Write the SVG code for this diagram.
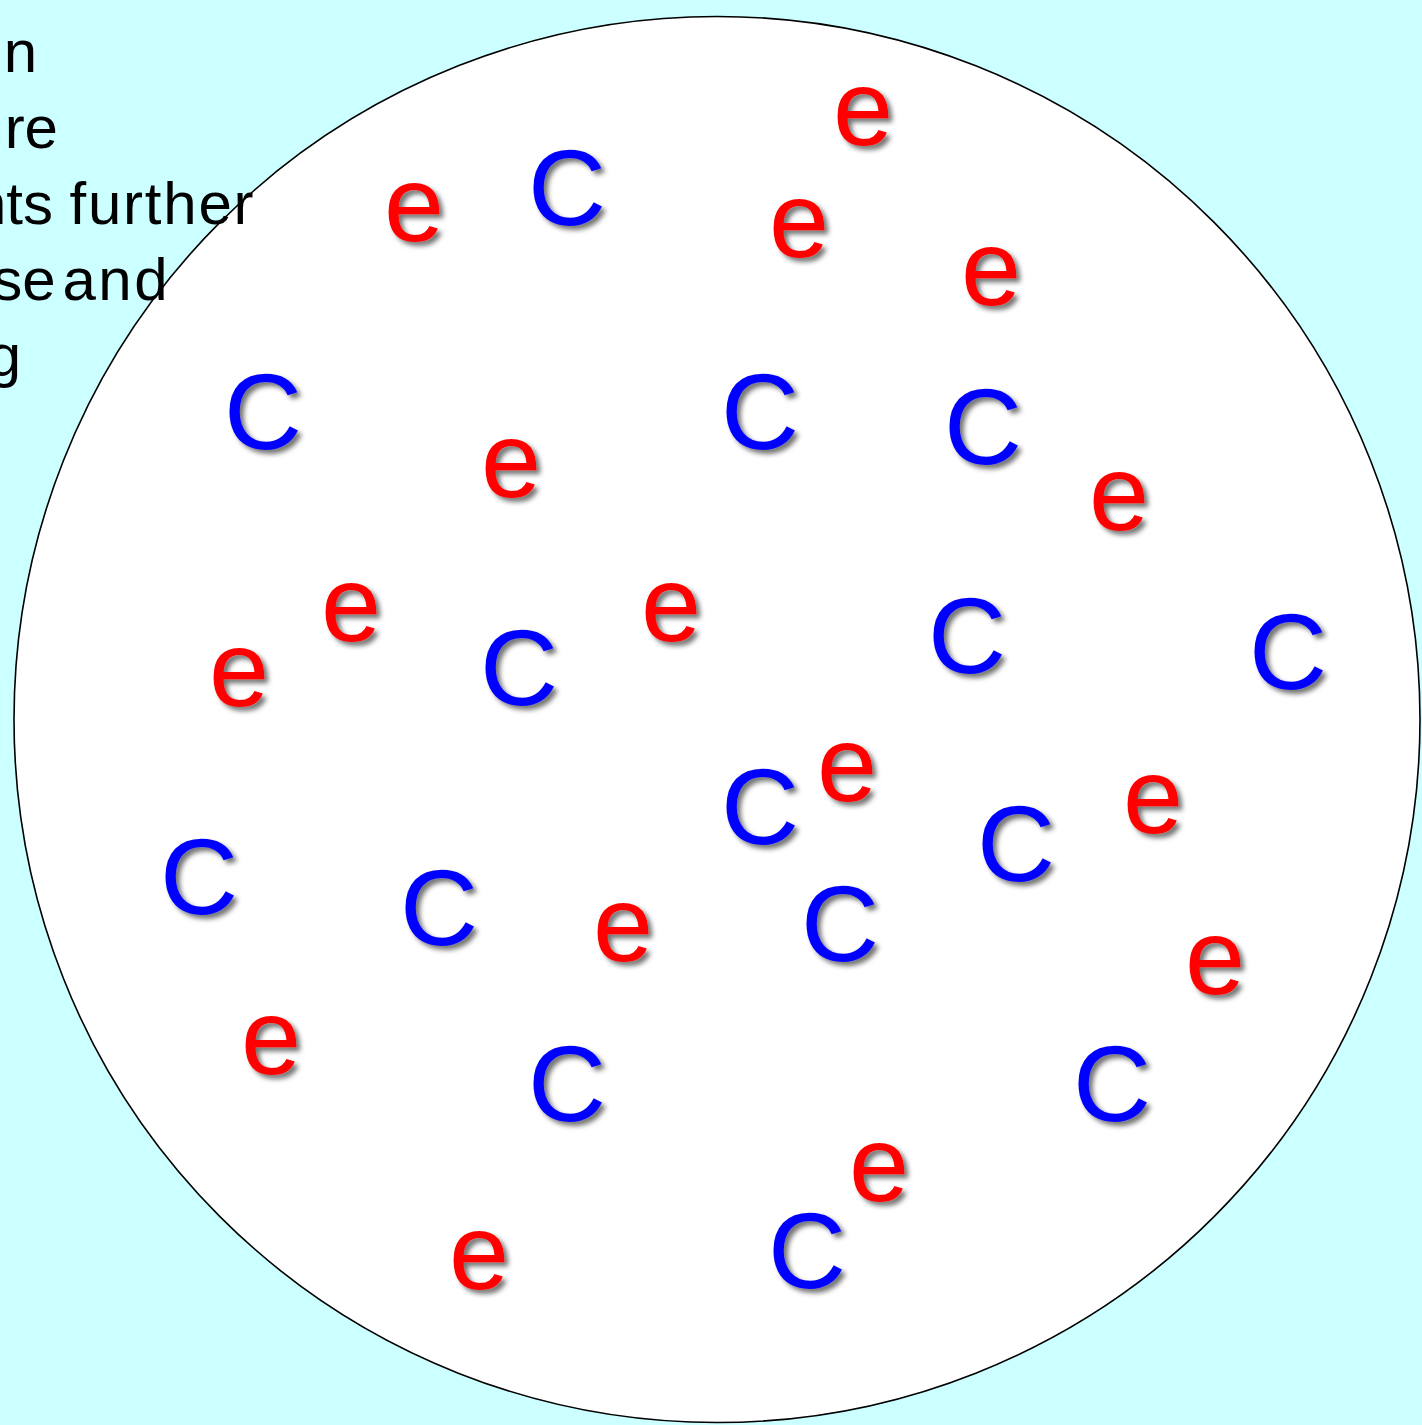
<svg xmlns="http://www.w3.org/2000/svg" width="1422" height="1425" viewBox="0 0 1422 1425">
<defs>
<style>
.bg{fill:#CCFFFF}
.circle{fill:#FFFFFF;stroke:#000000;stroke-width:1.6}
.txt{font-family:"Liberation Sans",Arial,sans-serif;font-size:60px;fill:#000000}
.end{text-anchor:end}
.p{font-family:"Liberation Sans",Arial,sans-serif;font-size:108px;filter:url(#shadow)}
.c{fill:#0000FF}
.e{fill:#FF0000}
</style>
<filter id="shadow" x="-20%" y="-20%" width="150%" height="150%">
<feDropShadow dx="4" dy="4" stdDeviation="2.5" flood-color="#000000" flood-opacity="0.55"/>
</filter>
</defs>
<rect class="bg" x="0" y="0" width="1422" height="1425"/>
<g id="circle"><circle class="circle" cx="717" cy="719.5" r="703"/></g>
<g id="caption">
<text class="txt end" x="37" y="72">n</text>
<text class="txt end" x="58" y="148">re</text>
<text class="txt end" x="53" y="224">nts</text>
<text class="txt" x="69.5" y="224" textLength="184" lengthAdjust="spacing">further</text>
<text class="txt end" x="55.5" y="300">se</text>
<text class="txt" x="62.5" y="300" textLength="105" lengthAdjust="spacing">and</text>
<text class="txt end" x="21" y="376">g</text>
</g>
<g id="connectors"></g>
<g id="particles">
<g id="c1"><text class="p c" x="528" y="225">C</text></g>
<g id="c2"><text class="p c" x="224" y="449">C</text></g>
<g id="c3"><text class="p c" x="721" y="449">C</text></g>
<g id="c4"><text class="p c" x="944" y="464">C</text></g>
<g id="c5"><text class="p c" x="480" y="705">C</text></g>
<g id="c6"><text class="p c" x="928" y="673">C</text></g>
<g id="c7"><text class="p c" x="1249" y="689">C</text></g>
<g id="c8"><text class="p c" x="721" y="844">C</text></g>
<g id="c9"><text class="p c" x="977" y="881">C</text></g>
<g id="c10"><text class="p c" x="160" y="914">C</text></g>
<g id="c11"><text class="p c" x="400" y="945">C</text></g>
<g id="c12"><text class="p c" x="801" y="961">C</text></g>
<g id="c13"><text class="p c" x="528" y="1121">C</text></g>
<g id="c14"><text class="p c" x="1073" y="1121">C</text></g>
<g id="c15"><text class="p c" x="768" y="1288">C</text></g>
<g id="e1"><text class="p e" x="833" y="145">e</text></g>
<g id="e2"><text class="p e" x="384" y="241">e</text></g>
<g id="e3"><text class="p e" x="769" y="257">e</text></g>
<g id="e4"><text class="p e" x="961" y="305">e</text></g>
<g id="e5"><text class="p e" x="481" y="497">e</text></g>
<g id="e6"><text class="p e" x="1089" y="530">e</text></g>
<g id="e7"><text class="p e" x="321" y="641">e</text></g>
<g id="e8"><text class="p e" x="641" y="641">e</text></g>
<g id="e9"><text class="p e" x="209" y="706">e</text></g>
<g id="e10"><text class="p e" x="817" y="801">e</text></g>
<g id="e11"><text class="p e" x="1123" y="833">e</text></g>
<g id="e12"><text class="p e" x="593" y="961">e</text></g>
<g id="e13"><text class="p e" x="1185" y="994">e</text></g>
<g id="e14"><text class="p e" x="241" y="1074">e</text></g>
<g id="e15"><text class="p e" x="849" y="1201">e</text></g>
<g id="e16"><text class="p e" x="449" y="1289">e</text></g>
</g>
</svg>
